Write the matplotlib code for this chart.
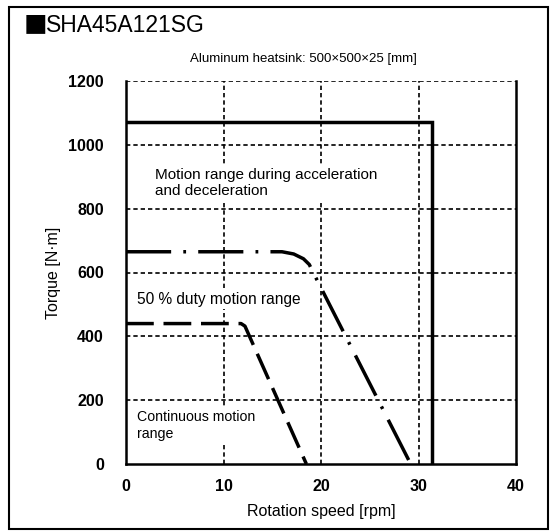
import matplotlib
matplotlib.use("Agg")
import matplotlib.pyplot as plt
from matplotlib.patches import Rectangle

plt.rcParams['font.family'] = ['Liberation Sans', 'DejaVu Sans']

# Data
accel_speed = [0, 31.4, 31.4]
accel_torque = [1070, 1070, 0]
duty_speed = [0, 16.0, 17.2, 18.2, 18.8, 19.2, 29.2]
duty_torque = [665, 665, 658, 643, 625, 600, 0]
cont_speed = [0, 11.8, 12.2, 18.5]
cont_torque = [440, 440, 432, 0]
xticks = [0, 10, 20, 30, 40]
yticks = [0, 200, 400, 600, 800, 1000, 1200]

fig = plt.figure(figsize=(5.55, 5.31), dpi=100)
W, H = 555, 531
ax = fig.add_axes([126 / W, 1 - 464 / H, (516 - 126) / W, (464 - 81) / H])
ax.set_xlim(0, 40)
ax.set_ylim(0, 1200)

# grid
for x in xticks[1:-1]:
    ax.plot([x, x], [0, 1200], color='black', lw=1.2, ls=(0, (2.6, 1.8)), zorder=1)
for y in yticks[1:]:
    ax.plot([0, 40], [y, y], color='black', lw=1.2, ls=(0, (2.6, 1.8)), zorder=1)

for s in ['left', 'bottom', 'right']:
    ax.spines[s].set_linewidth(1.8)
ax.spines['top'].set_visible(False)

ax.plot(accel_speed, accel_torque, color='black', lw=2.5, zorder=4, solid_joinstyle='miter')
ax.plot(duty_speed, duty_torque, color='black', lw=2.5, ls=(0, (13, 3.5, 0.8, 3.5)), zorder=4)
ax.plot(cont_speed, cont_torque, color='black', lw=2.5, ls=(0, (8, 2.8)), zorder=4)

ax.set_xticks(xticks)
ax.set_yticks(yticks)
ax.tick_params(length=0, labelsize=11.5, pad=11)
ax.tick_params(axis='y', pad=16)
for lab in ax.get_xticklabels() + ax.get_yticklabels():
    lab.set_fontweight('bold')

ax.set_xlabel('Rotation speed [rpm]', fontsize=11.5, labelpad=7)
ax.set_ylabel('Torque [N·m]', fontsize=11.5, labelpad=5)

bb = dict(facecolor='white', edgecolor='none', pad=1.5)
ax.text(3.0, 928, 'Motion range during acceleration\nand deceleration', fontsize=11,
        va='top', ha='left', bbox=bb, zorder=3, linespacing=1.2)
ax.text(1.1, 514, '50 % duty motion range', fontsize=11.2, va='center', ha='left',
        bbox=bb, zorder=3)
ax.text(1.1, 170, 'Continuous motion\nrange', fontsize=10.2, va='top', ha='left',
        bbox=bb, zorder=3, linespacing=1.3)

fig.text(24 / W, 1 - 26 / H, '■', fontsize=17, va='center', ha='left',
         family=['Noto Sans CJK JP', 'DejaVu Sans'])
fig.text(46 / W, 1 - 26 / H, 'SHA45A121SG', fontsize=16.5, va='center', ha='left')
fig.text(303 / W, 1 - 59 / H, 'Aluminum heatsink: 500×500×25 [mm]', fontsize=9.5,
         va='center', ha='center')

# outer frame
fig.add_artist(Rectangle((8.5 / W, 1 - 529 / H), (548 - 8.5) / W, (529 - 6.5) / H,
                         transform=fig.transFigure, fill=False, edgecolor='black', lw=1.5))

fig.savefig('out.png', dpi=100)
